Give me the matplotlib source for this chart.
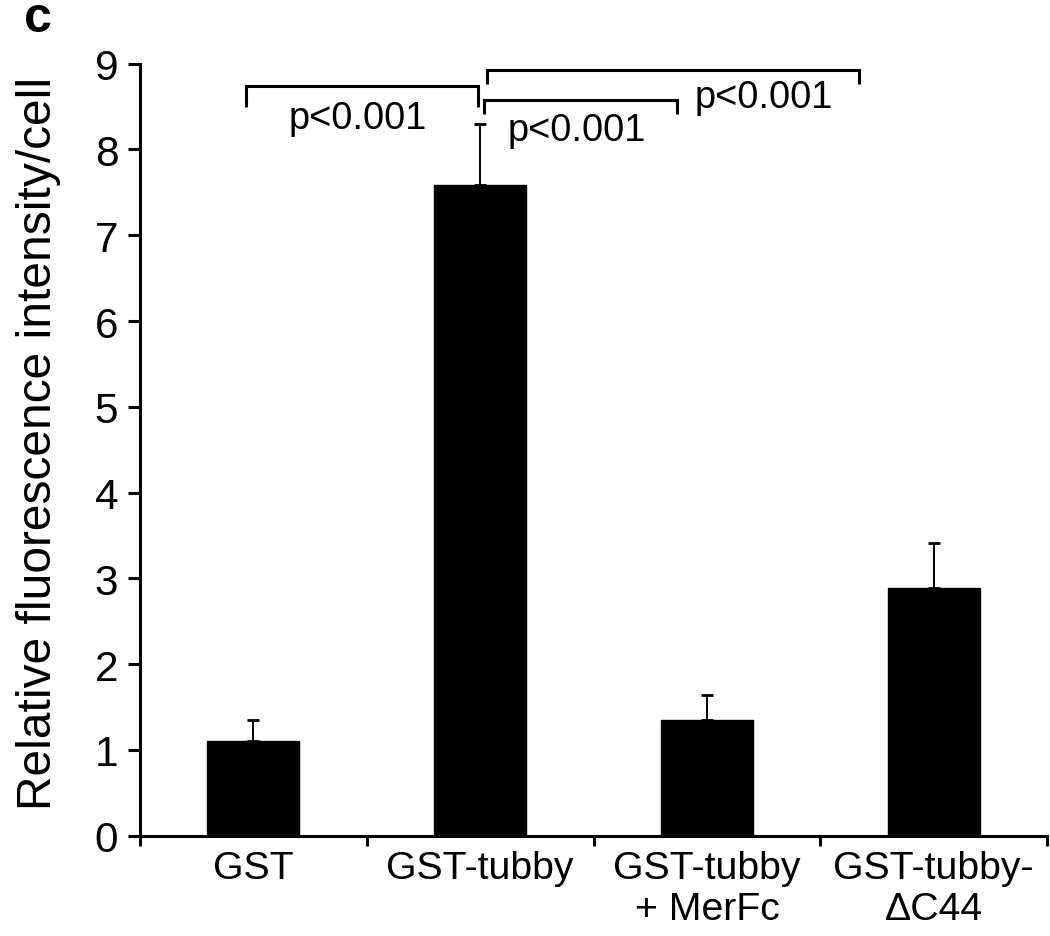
import numpy as np
import matplotlib
matplotlib.use("Agg")
import matplotlib.pyplot as plt

plt.rcParams['font.family'] = ['Liberation Sans', 'DejaVu Sans']

# Data
categories = ["GST", "GST-tubby", "GST-tubby\n+ MerFc", "GST-tubby-\n\u0394C44"]
means = [1.11, 7.58, 1.35, 2.89]
errors = [0.24, 0.72, 0.29, 0.52]

# significance brackets: (left x, right x, top y, leg bottom y, text x, text y)
brackets = [
    (-0.033, 0.989, 8.74, 8.49, 0.46, 8.37),
    (1.015, 1.866, 8.575, 8.41, 1.425, 8.23),
    (1.029, 2.672, 8.925, 8.76, 2.25, 8.61),
]
p_label = "p<0.001"

fig = plt.figure(figsize=(10.5, 9.37), dpi=100)
ax = fig.add_axes([0.1333, 0.107, 0.864, 0.824])

x = np.arange(len(categories))
ax.bar(x, means, width=0.405, color="black", edgecolor="black", zorder=2)
ax.errorbar(x, means, yerr=[np.zeros(len(errors)), errors], fmt="none",
            ecolor="black", elinewidth=1.4, capsize=4.3, capthick=2.0, zorder=1)

ax.set_xlim(-0.5, len(categories) - 0.5)
ax.set_ylim(0, 9)
ax.set_yticks(range(10))
ax.tick_params(axis="y", labelsize=30.5, length=8.6, width=2.2, pad=7)

# boundary ticks without labels, category labels on centres
ax.set_xticks(np.arange(-0.5, len(categories), 1.0))
ax.set_xticklabels([])
ax.tick_params(axis="x", which="major", length=7.5, width=2.2, direction="out")
ax.set_xticks(x, minor=True)
ax.set_xticklabels(categories, minor=True, fontsize=28.3, linespacing=1.18)
ax.tick_params(axis="x", which="minor", length=0, pad=10)

for side in ["top", "right"]:
    ax.spines[side].set_visible(False)
for side in ["left", "bottom"]:
    ax.spines[side].set_linewidth(2.2)

ax.set_ylabel("Relative fluorescence intensity/cell", fontsize=34.5)
ax.yaxis.set_label_coords(-0.087, 0.509)

for x0, x1, ytop, ybot, tx, ty in brackets:
    ax.plot([x0, x0, x1, x1], [ybot, ytop, ytop, ybot], color="black",
            lw=2.2, clip_on=False, solid_capstyle="butt", solid_joinstyle="miter")
    ax.text(tx, ty, p_label, fontsize=27.4, ha="center", va="center")

fig.text(24 / 1050, 1 - 32 / 937, "c", fontsize=36, fontweight="bold",
         ha="left", va="baseline")

fig.savefig("out.png", dpi=100)
